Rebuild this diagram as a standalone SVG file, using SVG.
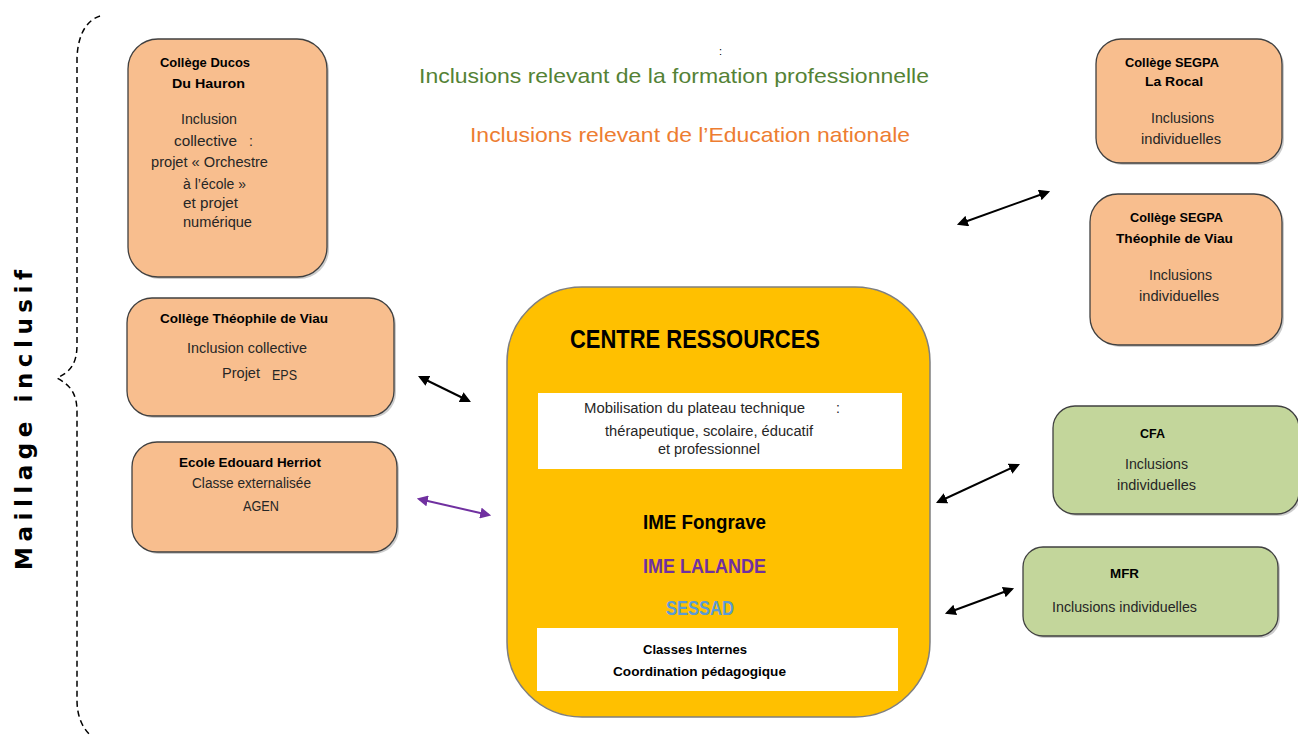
<svg xmlns="http://www.w3.org/2000/svg" width="1298" height="735" viewBox="0 0 1298 735">
<style>
text{font-family:"Liberation Sans","Open Sans",Arial,sans-serif;}
text.vert{font-family:"DejaVu Sans",Verdana,sans-serif;}
.b{font-size:13px;font-weight:bold;fill:#000;}
.t{font-size:14px;fill:#262626;}
.peach{fill:#F8BE8E;stroke:#404040;stroke-width:1.3;}
.green{fill:#C3D69B;stroke:#404040;stroke-width:1.3;}
.shadow{fill:#9a9a9a;opacity:0.5;}
.arr{stroke:#000;stroke-width:2;fill:none;marker-start:url(#ha);marker-end:url(#ha);}
.arrp{stroke:#7030A0;stroke-width:2;fill:none;marker-start:url(#hp);marker-end:url(#hp);}
.head{font-size:21px;}
.big{font-size:19.5px;font-weight:bold;}
</style>
<defs>
<marker id="ha" viewBox="0 0 10 10" refX="8" refY="5" markerWidth="5.5" markerHeight="5.5" orient="auto-start-reverse" markerUnits="strokeWidth">
<path d="M0,0 L10,5 L0,10 z" fill="#000"/>
</marker>
<marker id="hp" viewBox="0 0 10 10" refX="8" refY="5" markerWidth="5.5" markerHeight="5.5" orient="auto-start-reverse" markerUnits="strokeWidth">
<path d="M0,0 L10,5 L0,10 z" fill="#7030A0"/>
</marker>
</defs>
<rect width="1298" height="735" fill="#fff"/>

<g id="brace">
<path d="M100,16 C88,20 78,32 77,58 L77,345 C77,364 70,372 57,378 C70,385 77,393 77,412 L77,700 C77,716 82,727 90,735" fill="none" stroke="#000" stroke-width="1.5" stroke-dasharray="6,4"/>
<text class="vert" transform="translate(32,420) rotate(-90)" text-anchor="middle" font-size="23" font-weight="bold" fill="#000" textLength="300" lengthAdjust="spacing">Maillage  inclusif</text>
</g>

<g id="legend">
<text x="719" y="55" font-size="11" fill="#000">:</text>
<text class="head" x="419" y="83" fill="#548235" textLength="510" lengthAdjust="spacingAndGlyphs">Inclusions relevant de la formation professionnelle</text>
<text class="head" x="470" y="142" fill="#ED7D31" textLength="440" lengthAdjust="spacingAndGlyphs">Inclusions relevant de l’Education nationale</text>
</g>

<g id="college-ducos">
<rect class="shadow" x="130" y="41" width="199" height="238" rx="30"/>
<rect class="peach" x="128" y="39" width="199" height="238" rx="30"/>
<text class="b" x="160" y="67" textLength="90" lengthAdjust="spacingAndGlyphs">Collège Ducos</text>
<text class="b" x="172" y="88" textLength="73" lengthAdjust="spacingAndGlyphs">Du  Hauron</text>
<text class="t" x="181" y="124" textLength="56" lengthAdjust="spacingAndGlyphs">Inclusion</text>
<text class="t" x="174" y="146" textLength="63" lengthAdjust="spacingAndGlyphs">collective</text>
<text class="t" x="249" y="146">:</text>
<text class="t" x="151" y="167" textLength="117" lengthAdjust="spacingAndGlyphs">projet « Orchestre</text>
<text class="t" x="183" y="189" textLength="63" lengthAdjust="spacingAndGlyphs">à l’école »</text>
<text class="t" x="183" y="208" textLength="55" lengthAdjust="spacingAndGlyphs">et projet</text>
<text class="t" x="183" y="227" textLength="69" lengthAdjust="spacingAndGlyphs">numérique</text>
</g>

<g id="college-theophile">
<rect class="shadow" x="129" y="300" width="267" height="118" rx="25"/>
<rect class="peach" x="127" y="298" width="267" height="118" rx="25"/>
<text class="b" x="160" y="323" textLength="168" lengthAdjust="spacingAndGlyphs">Collège Théophile de Viau</text>
<text class="t" x="187" y="353" textLength="120" lengthAdjust="spacingAndGlyphs">Inclusion collective</text>
<text class="t" x="222" y="378" textLength="38" lengthAdjust="spacingAndGlyphs">Projet</text>
<text class="t" x="272" y="380" textLength="25" lengthAdjust="spacingAndGlyphs">EPS</text>
</g>

<g id="ecole-herriot">
<rect class="shadow" x="134" y="444" width="265" height="110" rx="25"/>
<rect class="peach" x="132" y="442" width="265" height="110" rx="25"/>
<text class="b" x="179" y="467" textLength="142" lengthAdjust="spacingAndGlyphs">Ecole Edouard  Herriot</text>
<text class="t" x="192" y="488" textLength="119" lengthAdjust="spacingAndGlyphs">Classe externalisée</text>
<text class="t" x="243" y="511" textLength="36" lengthAdjust="spacingAndGlyphs">AGEN</text>
</g>

<g id="centre-ressources">
<rect x="507" y="287" width="423" height="430" rx="75" fill="#FFC000" stroke="#7F7F7F" stroke-width="1.5"/>
<text x="570" y="348" font-size="26" font-weight="bold" fill="#000" textLength="250" lengthAdjust="spacingAndGlyphs">CENTRE RESSOURCES</text>
<rect x="538" y="393" width="364" height="76" fill="#fff"/>
<text class="t" x="584" y="413" font-size="13.5" textLength="221" lengthAdjust="spacingAndGlyphs">Mobilisation  du plateau technique</text>
<text class="t" x="836" y="413" font-size="13.5">:</text>
<text class="t" x="605" y="436" font-size="13.5" textLength="208" lengthAdjust="spacingAndGlyphs">thérapeutique, scolaire, éducatif</text>
<text class="t" x="658" y="454" font-size="13.5" textLength="102" lengthAdjust="spacingAndGlyphs">et professionnel</text>
<text class="big" x="643" y="529" fill="#000" textLength="123" lengthAdjust="spacingAndGlyphs">IME Fongrave</text>
<text class="big" x="643" y="573" fill="#7030A0" textLength="123" lengthAdjust="spacingAndGlyphs">IME LALANDE</text>
<text class="big" x="666" y="615" fill="#5B9BD5" textLength="68" lengthAdjust="spacingAndGlyphs">SESSAD</text>
<rect x="537" y="628" width="361" height="63" fill="#fff"/>
<text class="b" x="643" y="654" textLength="104" lengthAdjust="spacingAndGlyphs">Classes Internes</text>
<text class="b" x="613" y="676" textLength="173" lengthAdjust="spacingAndGlyphs">Coordination  pédagogique</text>
</g>

<g id="segpa-rocal">
<rect class="shadow" x="1098" y="41" width="186" height="124" rx="25"/>
<rect class="peach" x="1096" y="39" width="186" height="124" rx="25"/>
<text class="b" x="1125" y="67" textLength="94" lengthAdjust="spacingAndGlyphs">Collège SEGPA</text>
<text class="b" x="1145" y="86" textLength="58" lengthAdjust="spacingAndGlyphs">La  Rocal</text>
<text class="t" x="1151" y="123" textLength="63" lengthAdjust="spacingAndGlyphs">Inclusions</text>
<text class="t" x="1141" y="144" textLength="80" lengthAdjust="spacingAndGlyphs">individuelles</text>
</g>

<g id="segpa-theophile">
<rect class="shadow" x="1092" y="196" width="192" height="151" rx="28"/>
<rect class="peach" x="1090" y="194" width="192" height="151" rx="28"/>
<text class="b" x="1130" y="222" textLength="93" lengthAdjust="spacingAndGlyphs">Collège SEGPA</text>
<text class="b" x="1116" y="243" textLength="117" lengthAdjust="spacingAndGlyphs">Théophile de Viau</text>
<text class="t" x="1149" y="280" textLength="63" lengthAdjust="spacingAndGlyphs">Inclusions</text>
<text class="t" x="1139" y="301" textLength="80" lengthAdjust="spacingAndGlyphs">individuelles</text>
</g>

<g id="cfa">
<rect class="shadow" x="1055" y="408" width="246" height="108" rx="22"/>
<rect class="green" x="1053" y="406" width="246" height="108" rx="22"/>
<text class="b" x="1140" y="438" textLength="25" lengthAdjust="spacingAndGlyphs">CFA</text>
<text class="t" x="1125" y="469" textLength="63" lengthAdjust="spacingAndGlyphs">Inclusions</text>
<text class="t" x="1117" y="490" textLength="79" lengthAdjust="spacingAndGlyphs">individuelles</text>
</g>

<g id="mfr">
<rect class="shadow" x="1025" y="549" width="255" height="89" rx="20"/>
<rect class="green" x="1023" y="547" width="255" height="89" rx="20"/>
<text class="b" x="1110" y="578" textLength="29" lengthAdjust="spacingAndGlyphs">MFR</text>
<text class="t" x="1052" y="612" textLength="145" lengthAdjust="spacingAndGlyphs">Inclusions individuelles</text>
</g>

<g id="connectors">
<line class="arr" x1="420" y1="377" x2="469" y2="401"/>
<line class="arrp" x1="419" y1="499" x2="489" y2="515"/>
<line class="arr" x1="959" y1="224" x2="1048" y2="192"/>
<line class="arr" x1="938" y1="502" x2="1018" y2="465"/>
<line class="arr" x1="947" y1="613" x2="1012" y2="589"/>
</g>
</svg>
